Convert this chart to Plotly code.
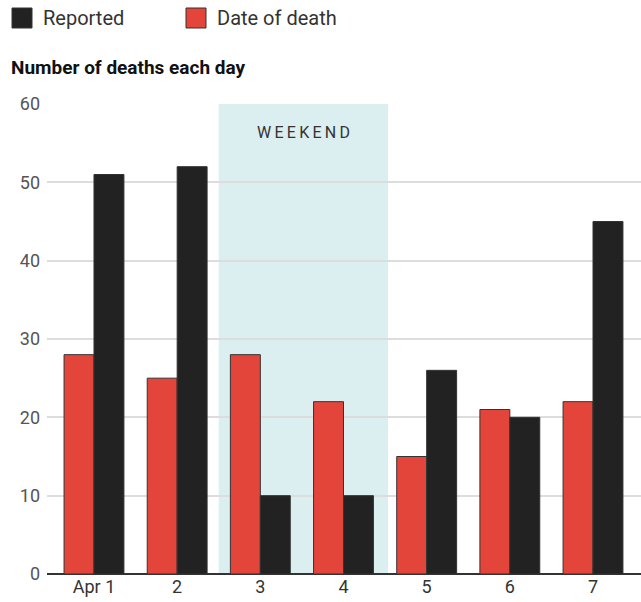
import plotly.graph_objects as go

categories = ["Apr 1", "2", "3", "4", "5", "6", "7"]
date_of_death = [28, 25, 28, 22, 15, 21, 22]
reported = [51, 52, 10, 10, 26, 20, 45]
y_ticks = [0, 10, 20, 30, 40, 50, 60]
weekend_start, weekend_end = 1.5, 3.535

RED = "#e4453b"
BLACK = "#222222"
FONT = "Roboto, Lato, sans-serif"

x = list(range(len(categories)))

fig = go.Figure()
fig.add_trace(go.Bar(x=x, y=date_of_death, name="Date of death",
                     marker=dict(color=RED, line=dict(color="#333333", width=1)),
                     showlegend=False))
fig.add_trace(go.Bar(x=x, y=reported, name="Reported",
                     marker=dict(color=BLACK, line=dict(color="#333333", width=1)),
                     showlegend=False))

fig.add_shape(type="rect", xref="x", yref="y", x0=weekend_start, x1=weekend_end,
              y0=0, y1=60, fillcolor="#dbeef0", line_width=0, layer="below")
fig.add_annotation(x=(weekend_start + weekend_end) / 2, y=56.3, xref="x", yref="y",
                   text="\u2009".join("WEEKEND"), showarrow=False,
                   font=dict(family=FONT, size=16, color="#333333"))

PH = 470.0
PW = 594.0
# legend (manual)
fig.add_shape(type="rect", xref="paper", yref="paper", x0=(12-47)/PW, x1=(32-47)/PW,
              y0=(574-28)/PH, y1=(574-8)/PH, fillcolor=BLACK, line=dict(color="#333", width=1))
fig.add_annotation(xref="paper", yref="paper", x=(41-47)/PW, y=(574-18)/PH,
                   text="Reported", showarrow=False, xanchor="left", yanchor="middle",
                   font=dict(family=FONT, size=20, color="#333333"))
fig.add_shape(type="rect", xref="paper", yref="paper", x0=(186-47)/PW, x1=(206-47)/PW,
              y0=(574-28)/PH, y1=(574-8)/PH, fillcolor=RED, line=dict(color="#333", width=1))
fig.add_annotation(xref="paper", yref="paper", x=(215-47)/PW, y=(574-18)/PH,
                   text="Date of death", showarrow=False, xanchor="left", yanchor="middle",
                   font=dict(family=FONT, size=20, color="#333333"))
fig.add_annotation(xref="paper", yref="paper", x=(9-47)/PW, y=(574-67)/PH,
                   text="<b>Number of deaths each day</b>", showarrow=False,
                   xanchor="left", yanchor="middle",
                   font=dict(family=FONT, size=19, color="#111111"))

fig.update_layout(
    width=641, height=602,
    margin=dict(l=47, r=0, t=104, b=28),
    plot_bgcolor="white", paper_bgcolor="white",
    barmode="group", bargap=0.28, bargroupgap=0,
    font=dict(family=FONT, size=18, color="#555555"),
    xaxis=dict(range=[-0.565, 6.577], tickvals=x, ticktext=categories,
               showgrid=False, zeroline=False, showline=False, ticks="",
               tickfont=dict(size=18, color="#333333")),
    yaxis=dict(range=[0, 60], tickvals=y_ticks, showgrid=True, gridcolor="#dddddd",
               gridwidth=2, zeroline=True, zerolinecolor="#333333", zerolinewidth=2,
               ticks="", ticklabelstandoff=6, tickfont=dict(size=18, color="#555555")),
)

fig.write_html("out.html", config={"displayModeBar": False},
               post_script="document.body.style.margin='0';")
